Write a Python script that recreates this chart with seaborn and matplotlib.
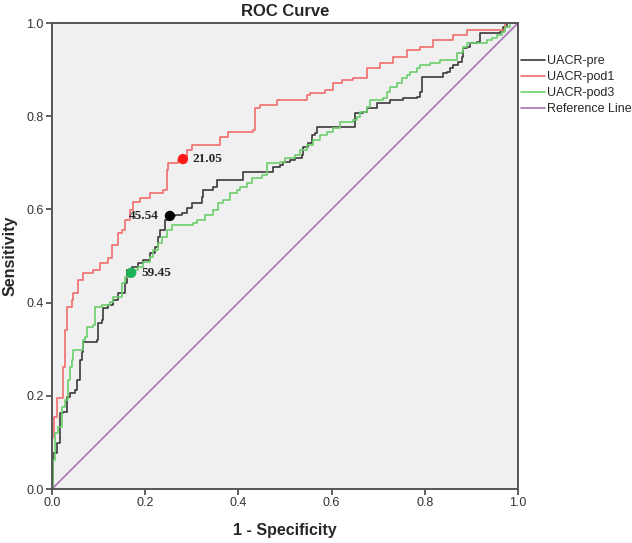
import numpy as np
import pandas as pd
import seaborn as sns
import matplotlib.pyplot as plt

# ROC curve vertices (1 - specificity, sensitivity)
pre_fpr = [0, 0.002, 0.011, 0.017, 0.024, 0.032, 0.039, 0.049, 0.054, 0.060, 0.064, 0.067,
           0.097, 0.099, 0.107, 0.109, 0.120, 0.131, 0.139, 0.142, 0.157, 0.161, 0.172, 0.185,
           0.195, 0.210, 0.221, 0.227, 0.232, 0.242, 0.253, 0.264, 0.279, 0.290, 0.300, 0.322,
           0.324, 0.345, 0.354, 0.408, 0.410, 0.468, 0.474, 0.489, 0.496, 0.511, 0.521, 0.536,
           0.539, 0.549, 0.558, 0.564, 0.569, 0.646, 0.650, 0.667, 0.676, 0.697, 0.725, 0.753,
           0.783, 0.790, 0.794, 0.833, 0.839, 0.848, 0.854, 0.861, 0.871, 0.880, 0.882, 0.891,
           0.897, 0.912, 0.918, 0.961, 0.968, 0.976, 1.0]
pre_tpr = [0, 0.077, 0.099, 0.163, 0.165, 0.197, 0.206, 0.212, 0.234, 0.277, 0.294, 0.315,
           0.320, 0.356, 0.363, 0.388, 0.395, 0.406, 0.406, 0.421, 0.442, 0.470, 0.476, 0.485,
           0.491, 0.506, 0.519, 0.541, 0.556, 0.577, 0.586, 0.588, 0.592, 0.603, 0.614, 0.627,
           0.642, 0.648, 0.663, 0.663, 0.680, 0.680, 0.691, 0.695, 0.702, 0.706, 0.710, 0.717,
           0.734, 0.742, 0.760, 0.764, 0.777, 0.777, 0.807, 0.809, 0.818, 0.828, 0.835, 0.839,
           0.841, 0.852, 0.884, 0.884, 0.893, 0.895, 0.903, 0.910, 0.916, 0.927, 0.946, 0.948,
           0.957, 0.959, 0.979, 0.981, 0.991, 1.0, 1.0]

pod1_fpr = [0, 0, 0.004, 0.011, 0.024, 0.028, 0.032, 0.043, 0.045, 0.056, 0.067, 0.088,
            0.103, 0.120, 0.129, 0.142, 0.150, 0.157, 0.167, 0.174, 0.189, 0.210, 0.238, 0.247,
            0.249, 0.270, 0.281, 0.290, 0.300, 0.345, 0.361, 0.378, 0.431, 0.436, 0.446, 0.483,
            0.547, 0.554, 0.586, 0.603, 0.622, 0.646, 0.676, 0.704, 0.732, 0.762, 0.790, 0.818,
            0.861, 0.891, 0.968, 0.972, 1.0]
pod1_tpr = [0, 0.112, 0.155, 0.195, 0.262, 0.341, 0.391, 0.406, 0.421, 0.448, 0.464, 0.470,
            0.485, 0.496, 0.524, 0.549, 0.556, 0.577, 0.599, 0.616, 0.624, 0.635, 0.642, 0.685,
            0.700, 0.706, 0.708, 0.727, 0.738, 0.738, 0.755, 0.766, 0.770, 0.818, 0.824, 0.835,
            0.845, 0.850, 0.856, 0.871, 0.878, 0.882, 0.903, 0.914, 0.927, 0.942, 0.948, 0.964,
            0.974, 0.985, 0.985, 1.0, 1.0]

pod3_fpr = [0, 0.002, 0.006, 0.013, 0.021, 0.028, 0.034, 0.039, 0.043, 0.045, 0.067, 0.071,
            0.075, 0.088, 0.092, 0.107, 0.124, 0.131, 0.150, 0.157, 0.170, 0.174, 0.185, 0.195,
            0.210, 0.217, 0.227, 0.236, 0.247, 0.258, 0.303, 0.311, 0.328, 0.345, 0.356, 0.367,
            0.382, 0.397, 0.403, 0.418, 0.429, 0.451, 0.461, 0.489, 0.500, 0.521, 0.532, 0.547,
            0.560, 0.575, 0.590, 0.603, 0.618, 0.646, 0.655, 0.661, 0.676, 0.682, 0.710, 0.719,
            0.725, 0.740, 0.751, 0.762, 0.768, 0.783, 0.790, 0.811, 0.833, 0.861, 0.869, 0.880,
            0.882, 0.891, 0.918, 0.933, 0.944, 0.955, 0.966, 0.972, 0.983, 1.0]
pod3_tpr = [0, 0.062, 0.120, 0.133, 0.176, 0.191, 0.234, 0.262, 0.277, 0.298, 0.320, 0.326,
            0.348, 0.352, 0.391, 0.395, 0.401, 0.412, 0.442, 0.455, 0.464, 0.470, 0.476, 0.487,
            0.498, 0.513, 0.528, 0.541, 0.556, 0.567, 0.571, 0.577, 0.588, 0.599, 0.614, 0.620,
            0.635, 0.642, 0.648, 0.657, 0.667, 0.674, 0.700, 0.702, 0.710, 0.717, 0.727, 0.738,
            0.749, 0.760, 0.766, 0.775, 0.788, 0.792, 0.798, 0.809, 0.820, 0.835, 0.839, 0.852,
            0.863, 0.871, 0.882, 0.888, 0.895, 0.903, 0.910, 0.914, 0.921, 0.921, 0.936, 0.938,
            0.948, 0.957, 0.957, 0.964, 0.968, 0.974, 0.981, 0.991, 1.0, 1.0]

# optimal cut-off points
cut_labels = ["21.05", "45.54", "59.45"]
cut_fpr = [0.281, 0.253, 0.170]
cut_tpr = [0.708, 0.586, 0.464]

series_names = ["UACR-pre", "UACR-pod1", "UACR-pod3"]
line_colors = ["#3a3a3a", "#f26d6d", "#6ccf6c"]
ref_color = "#a874b4"
dot_colors = ["#ff1a1a", "#000000", "#1cb25a"]

sns.set_style("white")
plt.rcParams['font.family'] = ['Liberation Sans', 'DejaVu Sans']

fig = plt.figure(figsize=(6.32, 5.43), dpi=100)
ax = fig.add_axes([52 / 632, 54 / 543, 466 / 632, 466 / 543])
ax.set_facecolor("#f0f0f0")

curves = [(pre_fpr, pre_tpr), (pod1_fpr, pod1_tpr), (pod3_fpr, pod3_tpr)]
for name, (fx, ty), col in zip(series_names, curves, line_colors):
    df = pd.DataFrame({"fpr": fx, "tpr": ty})
    sns.lineplot(data=df, x="fpr", y="tpr", ax=ax, color=col, lw=1.2,
                 drawstyle="steps-post", sort=False, estimator=None, label=name)

ref = pd.DataFrame({"fpr": [0, 1], "tpr": [0, 1]})
sns.lineplot(data=ref, x="fpr", y="tpr", ax=ax, color=ref_color, lw=1.2,
             sort=False, estimator=None, label="Reference Line")

ax.scatter(cut_fpr, cut_tpr, s=55, c=dot_colors, zorder=5, edgecolors="none")
offsets = [(7, 0), (-8, 0), (7, 0)]
aligns = ["left", "right", "left"]
for lab, xx, yy, off, ha in zip(cut_labels, cut_fpr, cut_tpr, offsets, aligns):
    ax.annotate(lab, (xx, yy), xytext=off, textcoords="offset points", ha=ha, va="center",
                fontsize=9.5, fontweight="bold", family="Liberation Serif", zorder=6)

ax.set_xlim(0, 1)
ax.set_ylim(0, 1)
ticks = [0.0, 0.2, 0.4, 0.6, 0.8, 1.0]
ax.set_xticks(ticks)
ax.set_yticks(ticks)
ax.set_xticklabels([f"{t:.1f}" for t in ticks])
ax.set_yticklabels([f"{t:.1f}" for t in ticks])
ax.tick_params(axis="both", direction="out", length=4, width=1.2, colors="#444444",
               labelsize=9, labelcolor="#333333", pad=2)
ax.tick_params(bottom=True, left=True)
for s in ax.spines.values():
    s.set_color("#555555")
    s.set_linewidth(1.4)

ax.set_xlabel("1 - Specificity", fontsize=11.5, fontweight="bold", labelpad=10)
ax.set_ylabel("Sensitivity", fontsize=11.5, fontweight="bold", labelpad=6)
ax.set_title("ROC Curve", fontsize=12, fontweight="bold", pad=5)

handles, labels = ax.get_legend_handles_labels()
ax.get_legend().remove()
fig.legend(handles, labels, loc="center left", bbox_to_anchor=(521 / 632, 1 - 85 / 543),
           frameon=False, fontsize=9, handlelength=1.9, handletextpad=0.2,
           labelspacing=0.32, borderpad=0, borderaxespad=0)

fig.savefig("out.png", dpi=100)
